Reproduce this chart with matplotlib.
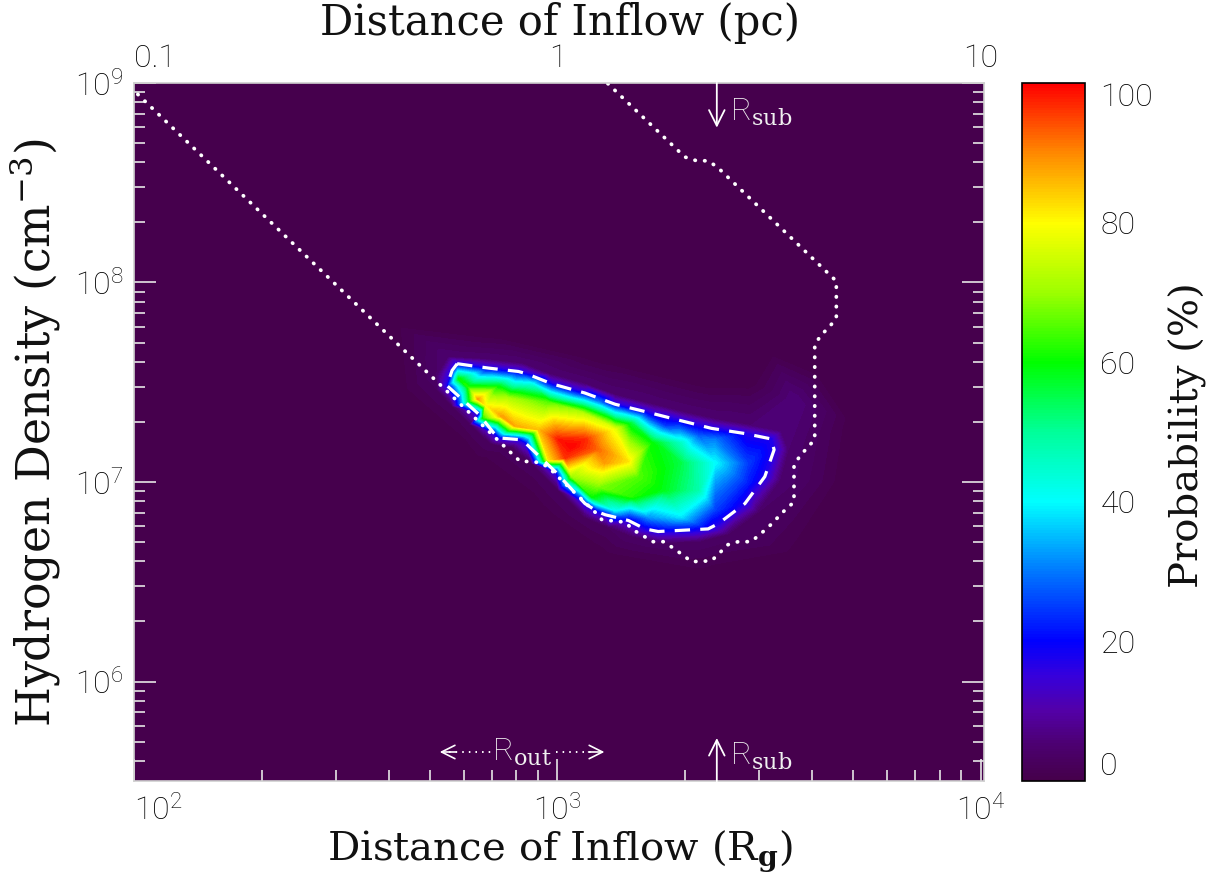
import numpy as np
import matplotlib
matplotlib.use('Agg')
import matplotlib.pyplot as plt
import matplotlib.tri as mtri
from matplotlib.colors import LinearSegmentedColormap, Normalize
from matplotlib.cm import ScalarMappable
from matplotlib.ticker import FixedLocator, FuncFormatter, NullFormatter, LogLocator

plt.rcParams['font.family'] = ['Roboto', 'DejaVu Sans']
plt.rcParams['font.weight'] = 'light'
plt.rcParams['mathtext.fontset'] = 'custom'
plt.rcParams['mathtext.rm'] = 'DejaVu Serif'
plt.rcParams['mathtext.bf'] = 'DejaVu Serif:bold'
plt.rcParams['mathtext.default'] = 'regular'

# --- probability samples (log10 R_g, log10 n_H, %) ---
core_lx = [2.767, 2.790, 2.812, 2.831, 2.825, 2.861, 2.884, 2.869, 2.900, 2.939,
           2.955, 2.979, 3.002, 3.034, 3.065, 3.018, 2.979, 3.057, 3.097, 3.097,
           3.112, 3.136, 3.167, 3.175, 3.034, 3.081, 3.097, 3.191, 3.222, 3.175,
           3.254, 3.136, 3.215, 3.293, 3.293, 3.293, 3.333, 3.372, 3.372, 3.372,
           3.450, 3.450, 3.254, 3.333]
core_ly = [7.517, 7.475, 7.416, 7.385, 7.322, 7.483, 7.416, 7.328, 7.280, 7.491,
           7.263, 7.399, 7.213, 7.179, 7.213, 7.120, 7.111, 7.348, 7.398, 7.162,
           7.095, 7.263, 7.103, 7.297, 7.027, 6.926, 6.976, 7.027, 7.196, 6.926,
           6.959, 6.858, 6.824, 6.824, 7.095, 7.196, 6.959, 7.213, 7.095, 6.858,
           7.095, 6.993, 7.280, 7.230]
core_p = [60, 62, 88, 80, 62, 58, 72, 88, 87, 42,
          85, 65, 98, 100, 97, 96, 82, 72, 32, 92,
          88, 78, 82, 55, 70, 60, 68, 65, 60, 62,
          58, 40, 32, 38, 55, 45, 48, 30, 40, 25,
          25, 22, 25, 28]

# dashed contour (edge of the high-probability region)
dash_lx = [2.763, 2.837, 2.908, 2.928, 2.987, 3.065, 3.136, 3.211, 3.285, 3.364,
           3.443, 3.505, 3.512, 3.490, 3.443, 3.380, 3.356, 3.238, 3.207, 3.168,
           3.113, 3.097, 3.065, 2.995, 2.924, 2.908, 2.861, 2.849, 2.814, 2.739,
           2.751, 2.763]
dash_ly = [7.593, 7.571, 7.554, 7.542, 7.492, 7.446, 7.390, 7.351, 7.311, 7.269,
           7.243, 7.216, 7.162, 7.027, 6.892, 6.791, 6.765, 6.752, 6.765, 6.807,
           6.836, 6.849, 6.892, 7.052, 7.196, 7.213, 7.221, 7.247, 7.340, 7.483,
           7.559, 7.593]
edge_p = 17

# faint halo just outside the region
halo_lx = [2.743, 2.829, 2.916, 2.979, 3.065, 3.136, 3.222, 3.301, 3.380, 3.458,
           3.529, 3.545, 3.525, 3.474, 3.403, 3.333, 3.238, 3.175, 3.120, 3.065,
           3.002, 2.939, 2.892, 2.853, 2.841, 2.794, 2.751, 2.715, 2.715, 3.558]
halo_ly = [7.626, 7.615, 7.593, 7.542, 7.491, 7.436, 7.390, 7.348, 7.311, 7.284,
           7.255, 7.162, 7.010, 6.849, 6.740, 6.702, 6.697, 6.731, 6.773, 6.824,
           6.959, 7.094, 7.175, 7.187, 7.196, 7.289, 7.381, 7.466, 7.534, 7.400]
halo_p = [5, 5, 5, 5, 5, 5, 5, 5, 5, 5,
          5, 5, 5, 4, 4, 4, 4, 4, 3, 3,
          3, 3, 3, 3, 3, 3, 3, 3, 4, 6]

# zero background
zero_lx = [2.60, 2.85, 3.10, 3.35, 3.50, 3.62, 3.70, 3.68, 3.58, 3.35, 3.10, 2.95,
           2.80, 2.62, 3.45, 1.90, 4.10, 4.10, 1.90]
zero_ly = [7.80, 7.74, 7.62, 7.50, 7.66, 7.56, 7.30, 7.00, 6.62, 6.52, 6.62, 6.85,
           7.10, 7.45, 7.50, 5.40, 5.40, 9.10, 9.10]

# dotted outer contour
dot_lx = [3.070, 3.120, 3.301, 3.329, 3.356, 3.378, 3.659, 3.659, 3.643, 3.623,
          3.608, 3.608, 3.590, 3.572, 3.559, 3.559, 3.537, 3.498, 3.458, 3.427,
          3.403, 3.364, 3.317, 3.274, 3.250, 3.226, 3.179, 3.160, 3.105, 3.089,
          3.005, 2.985, 2.963, 2.939, 2.912, 2.891, 2.810, 2.629, 1.950]
dot_ly = [9.100, 8.995, 8.629, 8.610, 8.610, 8.578, 8.007, 7.821, 7.779, 7.736,
          7.689, 7.213, 7.171, 7.128, 7.081, 6.900, 6.858, 6.773, 6.701, 6.701,
          6.686, 6.605, 6.601, 6.669, 6.701, 6.701, 6.760, 6.799, 6.811, 6.849,
          7.019, 7.061, 7.095, 7.103, 7.103, 7.145, 7.311, 7.678, 9.062]

r_sub = 2380          # R_g
r_out = [527, 1291]   # R_g
rg_per_pc = 1000.0

# colour table (IDL-like rainbow with dark purple floor)
cmap = LinearSegmentedColormap.from_list('prob', [
    (0.00, '#45004a'), (0.05, '#4c0070'), (0.10, '#5300a8'), (0.15, '#3600dc'),
    (0.20, '#0000ff'), (0.30, '#0078ff'), (0.40, '#00ffff'), (0.50, '#00ff9a'),
    (0.60, '#00ff00'), (0.70, '#9cff00'), (0.80, '#ffff00'), (0.90, '#ff8a00'),
    (1.00, '#ff0000')])

all_lx = np.array(core_lx + dash_lx[:-1] + halo_lx + zero_lx)
all_ly = np.array(core_ly + dash_ly[:-1] + halo_ly + zero_ly)
all_p = np.array(core_p + [edge_p] * (len(dash_lx) - 1) + halo_p + [0] * len(zero_lx), dtype=float)

tri_log = mtri.Triangulation(all_lx, all_ly * 0.47)
tri = mtri.Triangulation(10 ** all_lx, 10 ** all_ly, tri_log.triangles)

fig = plt.figure(figsize=(12.15, 8.77), dpi=100)
ax = fig.add_axes([0.1105, 0.1091, 0.6996, 0.7963])
cax = fig.add_axes([0.8412, 0.1091, 0.0519, 0.7963])

ax.set_facecolor(cmap(0.0))
ax.tricontourf(tri, all_p, levels=np.linspace(0, 100, 101), cmap=cmap, vmin=0, vmax=100)

ax.plot(10 ** np.array(dot_lx), 10 ** np.array(dot_ly), color='white', lw=2.7,
        linestyle=(0, (0.1, 2.5)), dash_capstyle='round')
ax.plot(10 ** np.array(dash_lx), 10 ** np.array(dash_ly), color='white', lw=2.3,
        linestyle=(0, (4.8, 3.2)))

ax.set_xscale('log')
ax.set_yscale('log')
ax.set_xlim(100, 1.02e4)
ax.set_ylim(10 ** 5.5, 1e9)

for s in ax.spines.values():
    s.set_color('#cfcfcf')
    s.set_linewidth(1.2)
ax.tick_params(which='both', direction='in', color='#e6e6e6', top=False, right=True)
ax.tick_params(which='major', length=16, width=1.2, labelsize=23)
ax.tick_params(which='minor', length=8, width=1.2)
ax.tick_params(axis='x', which='major', pad=9)
ax.tick_params(axis='y', which='major', pad=8)
ax.yaxis.set_major_locator(FixedLocator([1e6, 1e7, 1e8, 1e9]))

sec = ax.secondary_xaxis('top', functions=(lambda x: x / rg_per_pc, lambda x: x * rg_per_pc))
sec.xaxis.set_major_locator(FixedLocator([0.1, 1, 10]))
sec.xaxis.set_minor_locator(LogLocator(base=10, subs=np.arange(2, 10)))
sec.xaxis.set_major_formatter(FuncFormatter(lambda v, _: f'{v:g}'))
sec.xaxis.set_minor_formatter(NullFormatter())
sec.tick_params(which='both', direction='in', color='#e6e6e6', labelsize=23, pad=7)
sec.tick_params(which='major', length=16, width=1.2)
sec.tick_params(which='minor', length=8, width=1.2)
sec.spines['top'].set_color('#cfcfcf')

# annotations
xt = ax.get_xaxis_transform()
ax.annotate('', xy=(r_sub, 0.936), xytext=(r_sub, 1.0), xycoords=xt,
            arrowprops=dict(arrowstyle='->', color='white', lw=1.3, mutation_scale=28,
                            shrinkA=0, shrinkB=0))
ax.text(r_sub * 1.075, 0.958, r'R$_{\rm sub}$', transform=xt, color='#f0f0f0',
        fontsize=23, va='center', ha='left')
ax.annotate('', xy=(r_sub, 0.062), xytext=(r_sub, 0.0), xycoords=xt,
            arrowprops=dict(arrowstyle='->', color='white', lw=1.3, mutation_scale=28,
                            shrinkA=0, shrinkB=0))
ax.text(r_sub * 1.075, 0.035, r'R$_{\rm sub}$', transform=xt, color='#f0f0f0',
        fontsize=23, va='center', ha='left')

r_mid = np.sqrt(r_out[0] * r_out[1])
ax.annotate('', xy=(r_out[0], 0.042), xytext=(r_out[0] * 1.09, 0.042), xycoords=xt,
            arrowprops=dict(arrowstyle='->', color='white', lw=1.2, mutation_scale=24,
                            shrinkA=0, shrinkB=0))
ax.annotate('', xy=(r_out[1], 0.042), xytext=(r_out[1] / 1.09, 0.042), xycoords=xt,
            arrowprops=dict(arrowstyle='->', color='white', lw=1.2, mutation_scale=24,
                            shrinkA=0, shrinkB=0))
ax.plot([r_out[0] * 1.05, r_mid / 1.18], [0.042, 0.042], transform=xt, color='white',
        lw=1.4, linestyle=(0, (0.8, 2.6)))
ax.plot([r_mid * 1.2, r_out[1] / 1.05], [0.042, 0.042], transform=xt, color='white',
        lw=1.4, linestyle=(0, (0.8, 2.6)))
ax.text(r_mid, 0.042, r'R$_{\rm out}$', transform=xt, color='#f0f0f0',
        fontsize=23, va='center', ha='center')

# colour bar
cb = fig.colorbar(ScalarMappable(norm=Normalize(0, 100), cmap=cmap), cax=cax)
cb.set_ticks([0, 20, 40, 60, 80, 100])
cb.outline.set_linewidth(1.2)
cb.outline.set_edgecolor('black')
cax.tick_params(length=0, pad=11, labelsize=23)
labs = cax.get_yticklabels()
labs[0].set_va('bottom')
labs[-1].set_va('top')

# first labels of the x axes start at the tick, as in the original
fig.canvas.draw()
for t in ax.xaxis.get_major_ticks():
    if np.isclose(t.get_loc(), 100):
        t.label1.set_horizontalalignment('left')
for t in sec.xaxis.get_major_ticks():
    if np.isclose(t.get_loc(), 0.1):
        t.label2.set_horizontalalignment('left')

serif = dict(family='DejaVu Serif', weight='normal', color='#111111')
fig.text(0.4605, 0.030, r'Distance of Inflow (R$_{\bf g}$)', ha='center', va='center',
         fontsize=29, **serif)
fig.text(0.4605, 0.974, 'Distance of Inflow (pc)', ha='center', va='center',
         fontsize=30, **serif)
fig.text(0.029, 0.507, r'Hydrogen Density (cm$^{-3}$)', rotation=90, ha='center', va='center',
         fontsize=33, **serif)
fig.text(0.978, 0.504, 'Probability (%)', rotation=90, ha='center', va='center',
         fontsize=29, **serif)

fig.savefig('out.png', dpi=100)
